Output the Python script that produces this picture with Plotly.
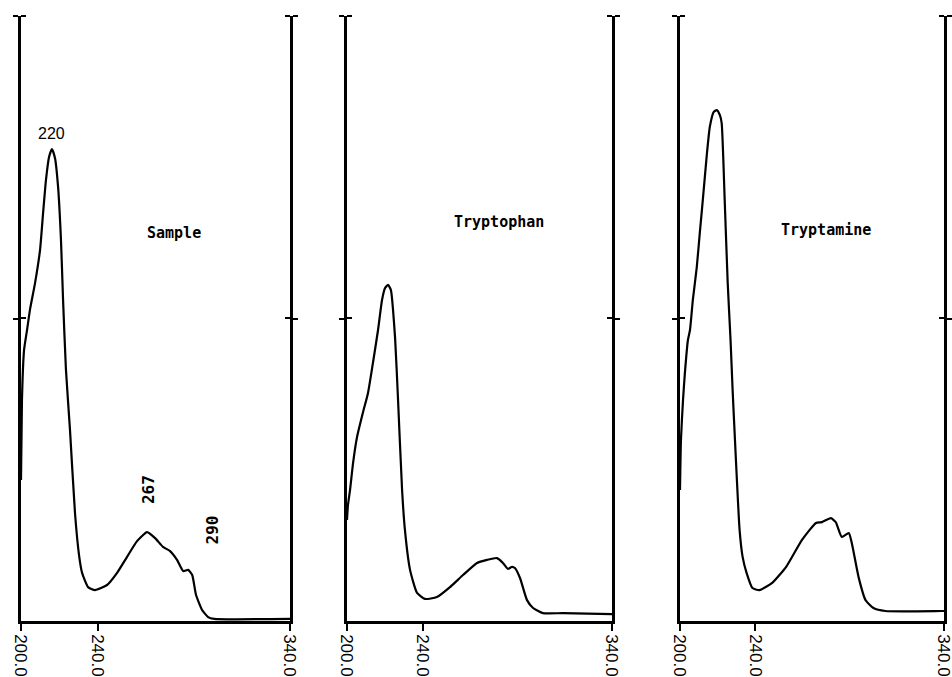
import plotly.graph_objects as go

# Sample spectrum (wavelength nm, absorbance)
sample_wl = [200.0, 200.5, 201.6, 203.1, 204.7, 207.3, 209.9, 211.5, 213.0, 214.6, 216.1, 217.7,
             219.3, 220.8, 221.9, 223.4, 225.5, 228.1, 230.2, 231.8, 234.9, 238.5, 244.8, 250.0,
             255.2, 260.4, 265.6, 269.8, 273.9, 277.6, 281.2, 284.4, 287.0, 289.1, 291.1, 294.3,
             297.4, 300.5, 340.0]
sample_abs = [0.466, 0.73, 0.896, 0.96, 1.03, 1.117, 1.226, 1.349, 1.458, 1.534, 1.56, 1.53,
              1.435, 1.26, 1.06, 0.83, 0.631, 0.357, 0.218, 0.159, 0.112, 0.102, 0.119, 0.159,
              0.212, 0.264, 0.294, 0.274, 0.245, 0.231, 0.202, 0.165, 0.169, 0.152, 0.086, 0.036,
              0.013, 0.007, 0.007]

# Tryptophan spectrum
trp_wl = [200.0, 200.5, 201.6, 203.2, 205.3, 208.5, 211.1, 213.7, 216.4, 218.5, 220.1, 221.7,
          223.2, 225.4, 226.9, 229.1, 230.6, 233.3, 237.0, 241.2, 247.5, 254.4, 261.3, 268.7,
          274.0, 279.2, 282.4, 285.0, 287.2, 288.7, 291.4, 295.1, 298.3, 303.5, 314.1, 340.0]
trp_abs = [0.334, 0.383, 0.433, 0.522, 0.608, 0.691, 0.754, 0.853, 0.962, 1.061, 1.101, 1.111,
           1.094, 0.936, 0.74, 0.433, 0.301, 0.169, 0.093, 0.073, 0.079, 0.112, 0.152, 0.192,
           0.202, 0.208, 0.192, 0.172, 0.179, 0.175, 0.142, 0.069, 0.043, 0.026, 0.026, 0.023]

# Tryptamine spectrum
tra_wl = [200.0, 200.5, 201.6, 202.6, 204.2, 205.3, 206.8, 208.9, 210.5, 212.1, 214.2, 215.8,
          217.9, 219.5, 221.1, 222.1, 223.7, 225.3, 226.8, 227.9, 228.9, 231.6, 233.2, 235.3,
          238.4, 242.1, 248.9, 256.3, 264.7, 272.1, 275.3, 280.0, 282.6, 285.8, 289.5, 291.1,
          294.7, 298.4, 302.6, 308.9, 338.4, 340.0]
tra_abs = [0.433, 0.598, 0.731, 0.82, 0.929, 0.962, 1.061, 1.17, 1.283, 1.392, 1.54, 1.633,
           1.683, 1.689, 1.673, 1.646, 1.392, 1.117, 0.929, 0.764, 0.631, 0.301, 0.212, 0.159,
           0.109, 0.102, 0.126, 0.179, 0.268, 0.324, 0.327, 0.34, 0.327, 0.278, 0.291, 0.258,
           0.145, 0.069, 0.043, 0.033, 0.033, 0.033]

titles = ["Sample", "Tryptophan", "Tryptamine"]
x_ticks = [200, 240, 340]
x_tick_labels = ["200.0", "240.0", "340.0"]

# Peak labels on the sample panel
peak_text = ["220", "267", "290"]
peak_wl = [216.1, 266.1, 299.5]
peak_abs = [1.613, 0.433, 0.30]
peak_angle = [0, -90, -90]

title_wl = [279.7, 280.3, 277.4]
title_abs = [1.283, 1.319, 1.293]

W, H = 952, 677
domains_px = [(21, 290), (347, 612), (680, 944)]
y_bottom_px, y_top_px = 621, 16

fig = go.Figure()
series = [(sample_wl, sample_abs), (trp_wl, trp_abs), (tra_wl, tra_abs)]
for i, (wl, ab) in enumerate(series):
    sfx = "" if i == 0 else str(i + 1)
    fig.add_trace(go.Scatter(x=wl, y=ab, mode="lines",
                             line=dict(color="black", width=2.2, shape="spline", smoothing=0.5),
                             xaxis="x" + sfx, yaxis="y" + sfx, showlegend=False,
                             hoverinfo="skip"))

layout = dict(width=W, height=H, margin=dict(l=0, r=0, t=0, b=0, pad=0),
              paper_bgcolor="white", plot_bgcolor="white", showlegend=False)

ydom = [1 - y_bottom_px / H, 1 - y_top_px / H]
annotations = []
for i, (a, b) in enumerate(domains_px):
    sfx = "" if i == 0 else str(i + 1)
    layout["xaxis" + sfx] = dict(
        domain=[a / W, b / W], range=[200, 340], anchor="y" + sfx,
        automargin=False, ticklabeloverflow="allow",
        showgrid=False, zeroline=False, showline=True, linecolor="black", linewidth=2.5,
        ticks="outside", ticklen=7, tickwidth=2, tickcolor="black",
        tickmode="array", tickvals=x_ticks, ticktext=x_tick_labels, tickangle=90,
        tickfont=dict(family="Liberation Sans, Arial", size=17, color="black"),
        mirror=False,
    )
    layout["yaxis" + sfx] = dict(
        domain=ydom, range=[0, 2], anchor="x" + sfx, automargin=False,
        showgrid=False, zeroline=False, showline=True, linecolor="black", linewidth=2.5,
        ticks="outside", ticklen=5, tickwidth=2, tickcolor="black",
        tickmode="array", tickvals=[1, 2], showticklabels=False,
        mirror="allticks",
        minor=dict(tickmode="array", tickvals=[1.0001, 1.9999], ticks="inside",
                   ticklen=5, tickwidth=2, tickcolor="black"),
    )
    annotations.append(dict(x=title_wl[i], y=title_abs[i], xref="x" + sfx, yref="y" + sfx,
                            text="<b>" + titles[i] + "</b>", showarrow=False,
                            font=dict(family="DejaVu Sans Mono", size=15, color="black")))

for t, wl, ab, ang in zip(peak_text, peak_wl, peak_abs, peak_angle):
    fam = "Liberation Sans, Arial" if ang == 0 else "DejaVu Sans Mono"
    txt = t if ang == 0 else "<b>" + t + "</b>"
    annotations.append(dict(x=wl, y=ab, xref="x", yref="y", text=txt, showarrow=False,
                            textangle=ang, font=dict(family=fam, size=16, color="black")))

layout["annotations"] = annotations
fig.update_layout(**layout)
fig.write_html("out.html", config={"displayModeBar": False},
               post_script="document.body.style.margin='0';document.body.style.overflow='hidden';")
